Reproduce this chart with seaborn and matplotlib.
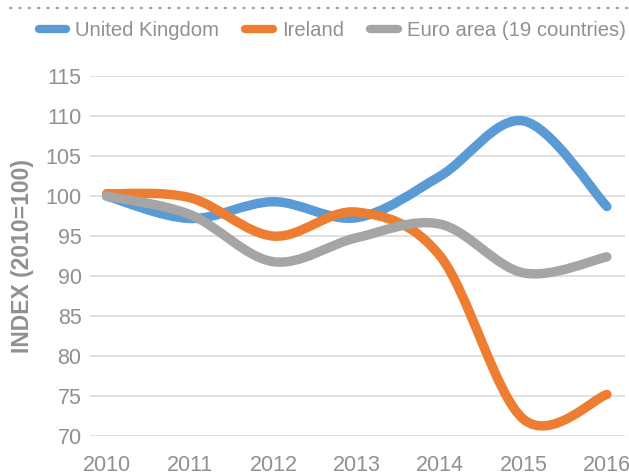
"""Index chart: UK vs Ireland vs Euro area, 2010=100."""

import matplotlib
matplotlib.use("Agg")
import matplotlib.pyplot as plt
import numpy as np
import pandas as pd
import seaborn as sns
from matplotlib.lines import Line2D
from matplotlib.patches import PathPatch
from matplotlib.path import Path

YEARS = [2010, 2011, 2012, 2013, 2014, 2015, 2016]
UK = [100.0, 97.2, 99.3, 97.3, 102.5, 109.4, 98.7]
IRELAND = [100.3, 99.8, 95.0, 98.0, 92.5, 72.1, 75.2]
EURO = [100.0, 97.7, 91.8, 94.8, 96.5, 90.4, 92.4]

SERIES = ["United Kingdom", "Ireland", "Euro area (19 countries)"]
PALETTE = ["#5B9BD5", "#ED7D31", "#A5A5A5"]
TEXT_GREY = "#909090"

sns.set_theme(style="white")
plt.rcParams["font.family"] = ["Liberation Sans", "DejaVu Sans"]

df = pd.DataFrame({
    "year": YEARS * 3,
    "value": UK + IRELAND + EURO,
    "series": [s for s in SERIES for _ in YEARS],
})


def smooth_path(x, y):
    """Excel-style smoothed line as a Bezier path (Catmull-Rom control points)."""
    pts = np.column_stack([x, y]).astype(float)
    n = len(pts)
    verts = [pts[0]]
    codes = [Path.MOVETO]
    for i in range(n - 1):
        p0 = pts[max(i - 1, 0)]
        p1 = pts[i]
        p2 = pts[i + 1]
        p3 = pts[min(i + 2, n - 1)]
        c1 = p1 + (p2 - p0) / 6
        c2 = p2 - (p3 - p1) / 6
        verts += [c1, c2, p2]
        codes += [Path.CURVE4] * 3
    return Path(verts, codes)


fig = plt.figure(figsize=(6.29, 4.76), dpi=100)
ax = fig.add_axes([0.143, 0.084, 0.851, 0.756])

sns.lineplot(data=df, x="year", y="value", hue="series", hue_order=SERIES,
             palette=PALETTE, legend=False, ax=ax)

# swap the straight segments for smoothed curves
for line, color in zip(list(ax.lines), PALETTE):
    xd, yd = line.get_xdata(), line.get_ydata()
    patch = PathPatch(smooth_path(xd, yd), facecolor="none", edgecolor=color,
                      linewidth=6.8, capstyle="round", joinstyle="round",
                      transform=ax.transData)
    ax.add_patch(patch)
    line.remove()

ax.set_xlim(2009.8, 2016.22)
ax.set_ylim(70, 115)
ax.set_yticks(np.arange(70, 116, 5))
ax.set_xticks(YEARS)
ax.yaxis.grid(True, color="#d9d9d9", linewidth=1.1)
ax.xaxis.grid(False)
for side in ax.spines.values():
    side.set_visible(False)
ax.tick_params(axis="both", length=0, labelsize=15.5, labelcolor=TEXT_GREY)
ax.tick_params(axis="y", pad=6)
ax.tick_params(axis="x", pad=14)
ax.set_xlabel("")
ax.set_ylabel("INDEX (2010=100)", fontsize=16.5, fontweight="bold",
              color=TEXT_GREY, labelpad=8)

handles = [Line2D([0], [0], color=c, linewidth=6, solid_capstyle="round")
           for c in PALETTE]
fig.legend(handles, SERIES, loc="center", bbox_to_anchor=(0.528, 0.935),
           ncol=3, frameon=False, fontsize=14.6, labelcolor=TEXT_GREY,
           handlelength=1.35, handletextpad=0.45, columnspacing=1.3,
           borderpad=0, borderaxespad=0)

# dotted rule at the top
fig.add_artist(Line2D([0.016, 1.0], [0.983, 0.983], color="#a0a0a0",
                      linewidth=1.6, linestyle=(0, (0.6, 3.6)),
                      dash_capstyle="round", transform=fig.transFigure))

fig.savefig("out.png", dpi=100)
